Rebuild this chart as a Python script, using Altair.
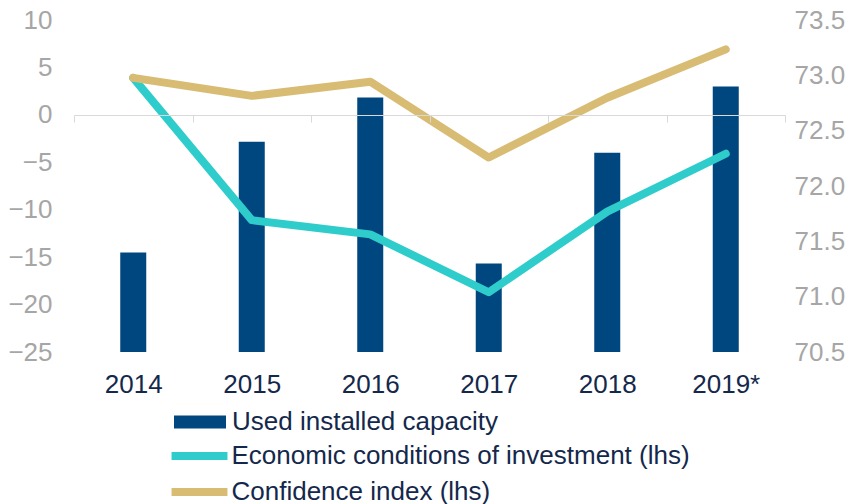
import altair as alt
import pandas as pd

years = ["2014", "2015", "2016", "2017", "2018", "2019*"]
capacity = [71.4, 72.4, 72.8, 71.3, 72.3, 72.9]
econ = [3.9, -11.1, -12.6, -18.7, -10.2, -4.1]
conf = [3.9, 2.0, 3.5, -4.5, 1.8, 6.9]

bar_name = "Used installed capacity"
econ_name = "Economic conditions of investment (lhs)"
conf_name = "Confidence index (lhs)"

left_ticks = [-25, -20, -15, -10, -5, 0, 5, 10]
right_ticks = [70.5, 71.0, 71.5, 72.0, 72.5, 73.0, 73.5]

bars_df = pd.DataFrame({"year": years, "value": capacity, "series": [bar_name] * len(years)})
lines_df = pd.DataFrame({
    "year": years + years,
    "value": econ + conf,
    "series": [econ_name] * len(years) + [conf_name] * len(years),
})

FONT = "Liberation Sans"
NAVY = "#14284B"
GRAY = "#A6A6A6"
FS = 26

x_enc = alt.X(
    "year:N", sort=years,
    scale=alt.Scale(paddingInner=0, paddingOuter=0),
    axis=alt.Axis(title=None, orient="bottom", offset=-237, domain=True, domainColor="#D9D9D9",
                  domainWidth=1, ticks=True, tickBand="extent", tickColor="#D9D9D9", tickSize=7,
                  tickWidth=1, labelPadding=249, labelFont=FONT, labelFontSize=FS, labelColor=NAVY,
                  labelAngle=0, zindex=1, grid=False),
)

bars = alt.Chart(bars_df).mark_bar(width=26, clip=True).encode(
    x=x_enc,
    y=alt.Y("value:Q", scale=alt.Scale(domain=[70.5, 73.5], zero=False, nice=False),
            axis=alt.Axis(orient="right", values=right_ticks, format=".1f", title=None, domain=False,
                          ticks=False, tickSize=0, grid=False, labelPadding=9, labelFont=FONT,
                          labelFontSize=FS, labelColor=GRAY)),
    fill=alt.Fill("series:N", scale=alt.Scale(domain=[bar_name], range=["#00467F"]),
                  legend=alt.Legend(title=None, orient="none", legendX=113, legendY=389,
                                    symbolType="M-2,-0.5H2V0.5H-2Z", symbolSize=676,
                                    symbolStrokeWidth=0, labelFont=FONT, labelFontSize=FS,
                                    labelColor=NAVY, labelOffset=19, padding=0, labelLimit=800)),
)

lines = alt.Chart(lines_df).mark_line(strokeWidth=8, strokeCap="round", strokeJoin="round").encode(
    x=x_enc,
    y=alt.Y("value:Q", scale=alt.Scale(domain=[-25, 10], zero=False, nice=False),
            axis=alt.Axis(orient="left", values=left_ticks, title=None, domain=False, ticks=False,
                          tickSize=0, grid=False, labelPadding=22, labelFont=FONT, labelFontSize=FS,
                          labelColor=GRAY)),
    stroke=alt.Stroke("series:N", scale=alt.Scale(domain=[econ_name, conf_name],
                                                  range=["#2ECDCC", "#D8BC73"]),
                      legend=alt.Legend(title=None, orient="none", legendX=108.5, legendY=419,
                                        direction="vertical", symbolType="M-2.15,0H2.15",
                                        symbolSize=676, symbolStrokeWidth=8, labelFont=FONT,
                                        labelFontSize=FS, labelColor=NAVY, labelOffset=15,
                                        rowPadding=3, padding=0, labelLimit=800)),
)

chart = alt.layer(bars, lines).resolve_scale(y="independent").properties(
    width=711, height=332,
    padding={"left": 66, "top": 12, "right": 61, "bottom": 152},
    autosize=alt.AutoSizeParams(type="none"),
).configure_view(stroke=None)

chart.save("out.html", embed_options={"renderer": "svg", "actions": False})
